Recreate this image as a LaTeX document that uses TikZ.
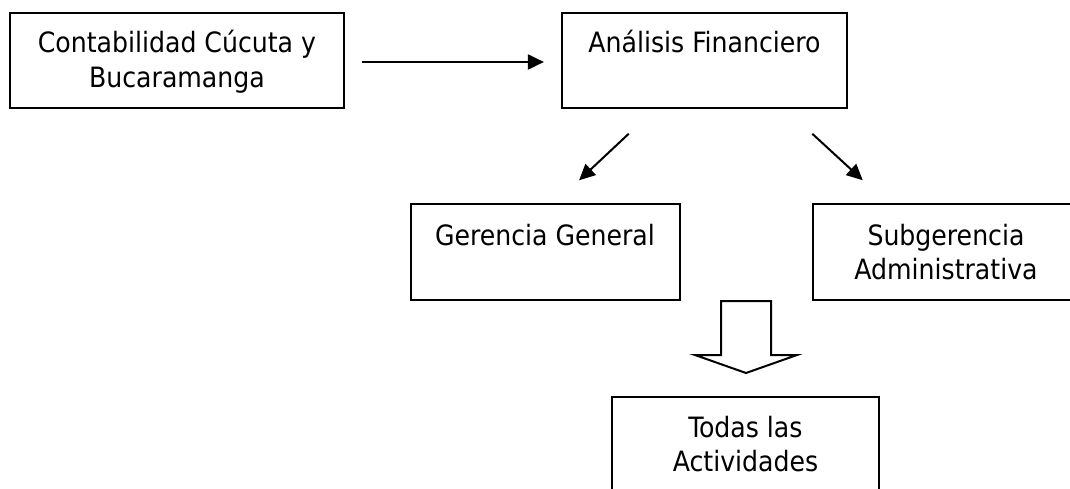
\documentclass[tikz,border=0pt]{standalone}
\usepackage{fontspec}
\setmainfont{DejaVu Sans Condensed}
\usetikzlibrary{arrows.meta}
\begin{document}
\begin{tikzpicture}[x=1pt,y=-1pt,
  box/.style={draw=black, line width=2.2pt, inner sep=0pt, rectangle},
  lbl/.style={anchor=base, align=center, inner sep=0pt,
    font=\fontsize{28}{34.5}\selectfont},
  arr/.style={draw=black, line width=2pt,
    -{Triangle[length=16pt,width=15pt]}},
  bigarrow/.style={draw=black, line width=2pt, fill=white, line join=miter}]
\useasboundingbox (0,0) rectangle (1070,489);

% boxes
\node[box, minimum width=334pt, minimum height=95pt] (b1) at (177,60.5) {};
\node[box, minimum width=285pt, minimum height=95pt] (b2) at (704.5,60.5) {};
\node[box, minimum width=269pt, minimum height=96pt] (b3) at (545.5,252) {};
\node[box, minimum width=266pt, minimum height=96pt] (b4) at (946,252) {};
\node[box, minimum width=267pt, minimum height=123pt] (b5) at (745.5,458.5) {};

% labels, set from the top of each box (base = last line)
\node[lbl] (t1) at (177,87.5) {Contabilidad Cúcuta y\\Bucaramanga};
\node[lbl] (t2) at (704.5,53) {Análisis Financiero};
\node[lbl] (t3) at (545,245) {Gerencia General};
\node[lbl] (t4) at (946,279.5) {Subgerencia\\Administrativa};
\node[lbl] (t5) at (745.5,471.5) {Todas las\\Actividades};

% connectors
\draw[arr, shorten <=17pt, shorten >=17pt]
  ([yshift=-1.5pt]b1.east) -- ([yshift=-1.5pt]b2.west);
\draw[arr, shorten <=36pt, shorten >=33pt]
  ([xshift=-49.5pt]b2.south) -- ([xshift=9.5pt]b3.north);
\draw[arr, shorten <=36.5pt, shorten >=33.5pt]
  ([xshift=81pt]b2.south) -- ([xshift=-58.6pt]b4.north);

% hollow block arrow down to the last box
\draw[bigarrow] (721,301) -- (721,355) -- (695,355) -- (746,373)
  -- (797,355) -- (771,355) -- (771,301) -- cycle;
\end{tikzpicture}
\end{document}
